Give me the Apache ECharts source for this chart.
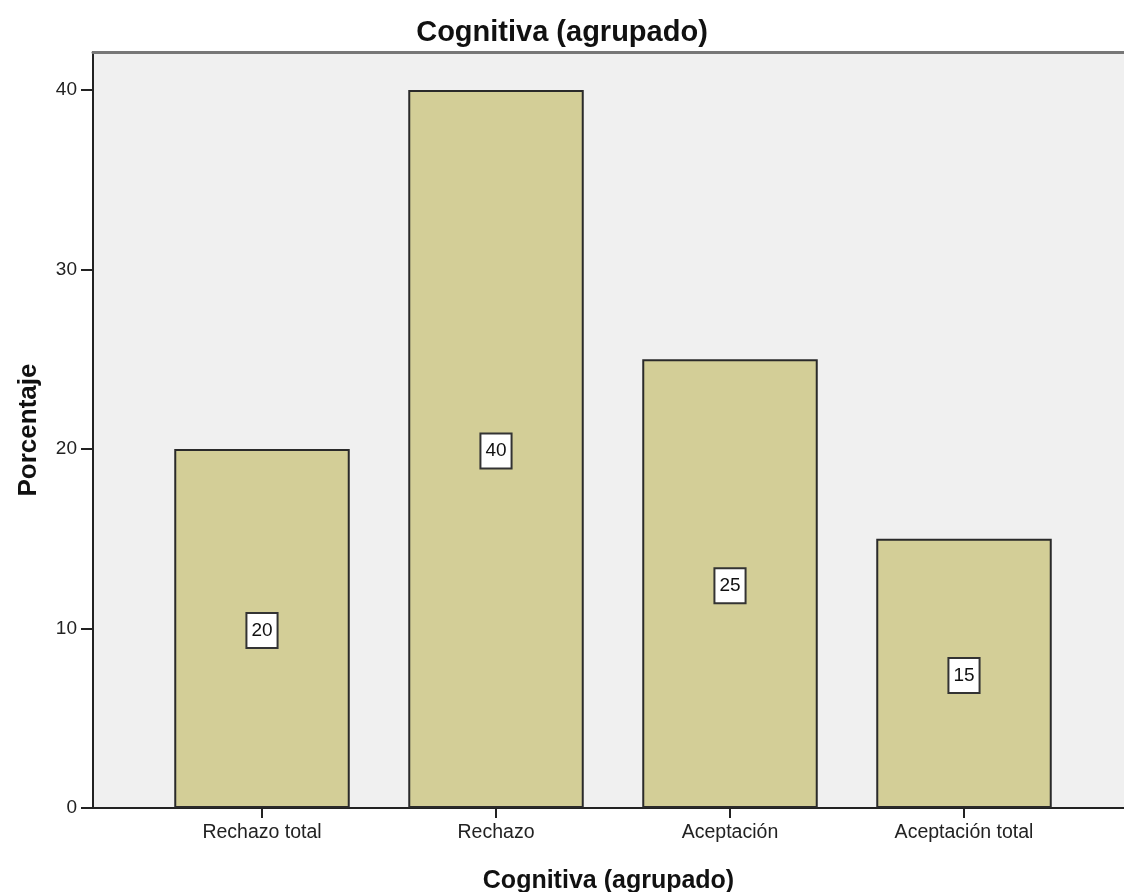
<!DOCTYPE html>
<html>
<head>
<meta charset="utf-8">
<script src="https://cdn.jsdelivr.net/npm/echarts@6/dist/echarts.min.js"></script>
<style>
  html, body { margin: 0; padding: 0; background: #fff; }
  #main { width: 1124px; height: 892px; }
</style>
</head>
<body>
<div id="main"></div>
<script>
let categories = ['Rechazo total', 'Rechazo', 'Aceptación', 'Aceptación total'];
let percentages = [20, 40, 25, 15];
let yTicks = [0, 10, 20, 30, 40];

let myChart = echarts.init(document.getElementById('main'));
let font = 'Liberation Sans, Arial, sans-serif';
let yMax = 42.12;

let option = {
  animation: false,
  title: {
    text: 'Cognitiva (agrupado)',
    left: 'center',
    top: 13,
    textStyle: { fontFamily: font, fontSize: 29, fontWeight: 'bold', color: '#111' }
  },
  grid: [
    // frame + background
    { left: 93, right: 0, top: 52, bottom: 84, show: true, backgroundColor: '#f0f0f0', borderWidth: 0, outerBoundsMode: 'none', containLabel: false },
    // bars
    { left: 145, right: 43, top: 52, bottom: 84, outerBoundsMode: 'none', containLabel: false }
  ],
  xAxis: [
    {
      gridIndex: 0, type: 'value', min: 0, max: 1,
      axisLine: { show: true, onZero: false, lineStyle: { color: '#222', width: 2 } },
      axisTick: { show: false }, axisLabel: { show: false }, splitLine: { show: false },
      name: 'Cognitiva (agrupado)', nameLocation: 'middle', nameGap: 61,
      nameTextStyle: { fontFamily: font, fontSize: 25, fontWeight: 'bold', color: '#111' }
    },
    {
      gridIndex: 0, type: 'value', min: 0, max: 1, position: 'top',
      axisLine: { show: true, onZero: false, lineStyle: { color: '#777', width: 3 } },
      axisTick: { show: false }, axisLabel: { show: false }, splitLine: { show: false }
    },
    {
      gridIndex: 1, type: 'category', data: categories,
      axisLine: { show: false },
      axisTick: { show: true, alignWithLabel: true, length: 10, inside: false, lineStyle: { color: '#222', width: 2 } },
      axisLabel: { fontFamily: font, fontSize: 19.5, color: '#222', margin: 15 }
    }
  ],
  yAxis: [
    {
      gridIndex: 0, type: 'value', min: 0, max: yMax, interval: 10,
      axisLine: { show: true, lineStyle: { color: '#222', width: 2 } },
      axisTick: { show: true, length: 12, lineStyle: { color: '#222', width: 2 } },
      axisLabel: { fontFamily: font, fontSize: 19, color: '#222', margin: 16,
        showMaxLabel: false,
        formatter: function (v) { return yTicks.indexOf(v) >= 0 ? String(v) : ''; } },
      splitLine: { show: false },
      name: 'Porcentaje', nameLocation: 'middle', nameGap: 51, nameRotate: 90,
      nameTextStyle: { fontFamily: font, fontSize: 26, fontWeight: 'bold', color: '#111' }
    },
    {
      gridIndex: 1, type: 'value', min: 0, max: yMax, show: false
    }
  ],
  series: [
    {
      type: 'bar',
      xAxisIndex: 2,
      yAxisIndex: 1,
      data: percentages,
      barWidth: '75%',
      itemStyle: { color: '#d3ce97', borderColor: '#2a2a2a', borderWidth: 2 },
      label: {
        show: true,
        position: 'inside',
        offset: [0, 2],
        fontFamily: font,
        fontSize: 19,
        color: '#111',
        backgroundColor: '#ffffff',
        borderColor: '#333',
        borderWidth: 2,
        padding: [8, 4, 6, 4]
      }
    }
  ]
};
myChart.setOption(option);
</script>
</body>
</html>
